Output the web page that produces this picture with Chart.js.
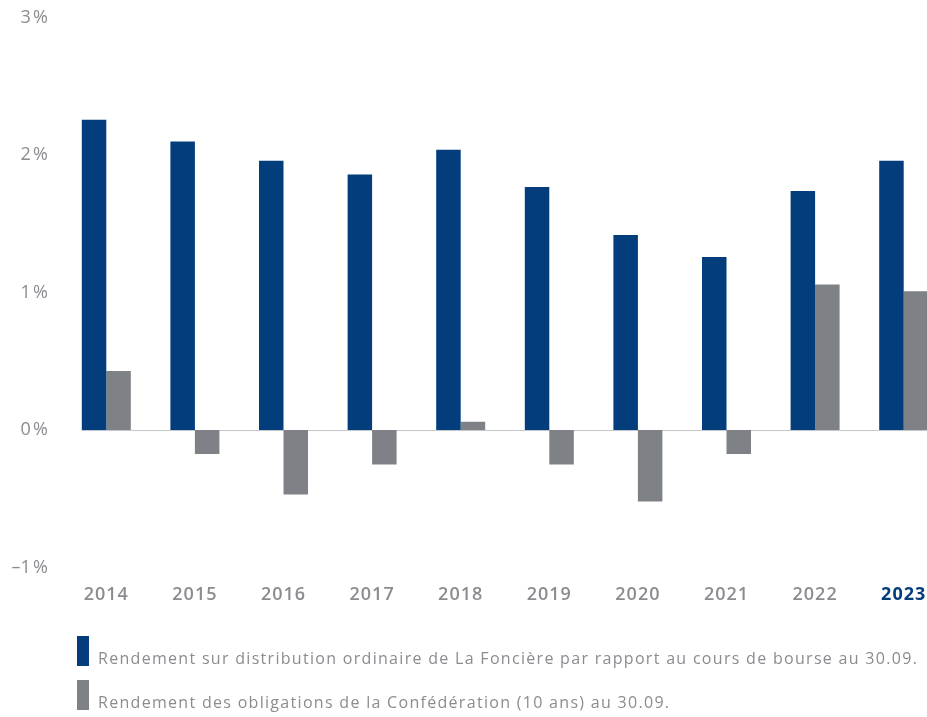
<!DOCTYPE html>
<html>
<head>
<meta charset="utf-8">
<script src="https://cdn.jsdelivr.net/npm/chart.js@4/dist/chart.umd.min.js"></script>
<style>
  html, body { margin: 0; padding: 0; background: #fff; overflow: hidden; }
  #wrap { position: relative; width: 960px; height: 717px; }
</style>
</head>
<body>
<div id="wrap"><canvas id="yieldChart"></canvas></div>
<script>
// données
const annees = ['2014', '2015', '2016', '2017', '2018', '2019', '2020', '2021', '2022', '2023'];
const rendementDistribution = [2.26, 2.10, 1.96, 1.86, 2.04, 1.77, 1.42, 1.26, 1.74, 1.96];
const rendementObligations = [0.43, -0.175, -0.47, -0.25, 0.06, -0.25, -0.52, -0.175, 1.06, 1.01];
const yTicks = [3, 2, 1, 0, -1];
const legendLabels = [
    'Rendement sur distribution ordinaire de La Foncière par rapport au cours de bourse au 30.09.',
    'Rendement des obligations de la Confédération (10 ans) au 30.09.'
];

const BLEU = '#033d7c';
const GRIS = '#7e8185';
const TEXTE = '#8a8c90';
const FONT = '"Open Sans", sans-serif';

// espacement des lettres pour tout le canvas
const spacing = {
    id: 'spacing',
    beforeDraw(chart) {
        chart.ctx.letterSpacing = '1px';
    }
};

// ligne du zéro, à partir de la première barre
const zeroLine = {
    id: 'zeroLine',
    beforeDatasetsDraw(chart) {
        const ctx = chart.ctx;
        const y = chart.scales.y.getPixelForValue(0);
        const first = chart.getDatasetMeta(0).data[0];
        const x0 = first.x - first.width / 2;
        ctx.save();
        ctx.strokeStyle = '#c4c6c9';
        ctx.lineWidth = 1;
        ctx.beginPath();
        ctx.moveTo(x0, y + 0.5);
        ctx.lineTo(chart.chartArea.right, y + 0.5);
        ctx.stroke();
        ctx.restore();
    }
};

// légende sous le graphique
const customLegend = {
    id: 'customLegend',
    afterDraw(chart) {
        const ctx = chart.ctx;
        const colors = [BLEU, GRIS];
        ctx.save();
        ctx.font = '16px ' + FONT;
        ctx.letterSpacing = '1.3px';
        ctx.textBaseline = 'alphabetic';
        legendLabels.forEach((txt, i) => {
            const top = 636 + i * 44;
            ctx.fillStyle = colors[i];
            ctx.fillRect(77, top, 12, 30);
            ctx.fillStyle = TEXTE;
            ctx.fillText(txt, 98, top + 28);
        });
        ctx.restore();
    }
};

new Chart(document.getElementById('yieldChart'), {
    type: 'bar',
    data: {
        labels: annees,
        datasets: [
            { label: legendLabels[0], data: rendementDistribution, backgroundColor: BLEU },
            { label: legendLabels[1], data: rendementObligations, backgroundColor: GRIS }
        ]
    },
    options: {
        responsive: true,
        maintainAspectRatio: false,
        animation: false,
        layout: { padding: { top: 18, bottom: 94, left: 0, right: 12 } },
        datasets: { bar: { categoryPercentage: 0.553, barPercentage: 1.0 } },
        plugins: {
            legend: { display: false },
            tooltip: { enabled: false }
        },
        scales: {
            x: {
                grid: { display: false, drawTicks: false },
                border: { display: false },
                ticks: {
                    padding: 17,
                    font: ctx => ({ family: FONT, size: 18, weight: ctx.index === annees.length - 1 ? '700' : '600' }),
                    color: ctx => ctx.index === annees.length - 1 ? BLEU : TEXTE
                }
            },
            y: {
                min: -1,
                max: 3,
                afterFit(scale) {
                    scale.width = 62;
                    scale.paddingTop = 0;
                },
                afterBuildTicks(scale) { scale.ticks = yTicks.map(v => ({ value: v })); },
                grid: { display: false, drawTicks: false },
                border: { display: false },
                ticks: {
                    padding: 14,
                    font: { family: FONT, size: 18 },
                    color: TEXTE,
                    callback: v => (v < 0 ? '\u2013' + Math.abs(v) : v) + '\u202F%'
                }
            }
        }
    },
    plugins: [spacing, zeroLine, customLegend]
});
</script>
</body>
</html>
